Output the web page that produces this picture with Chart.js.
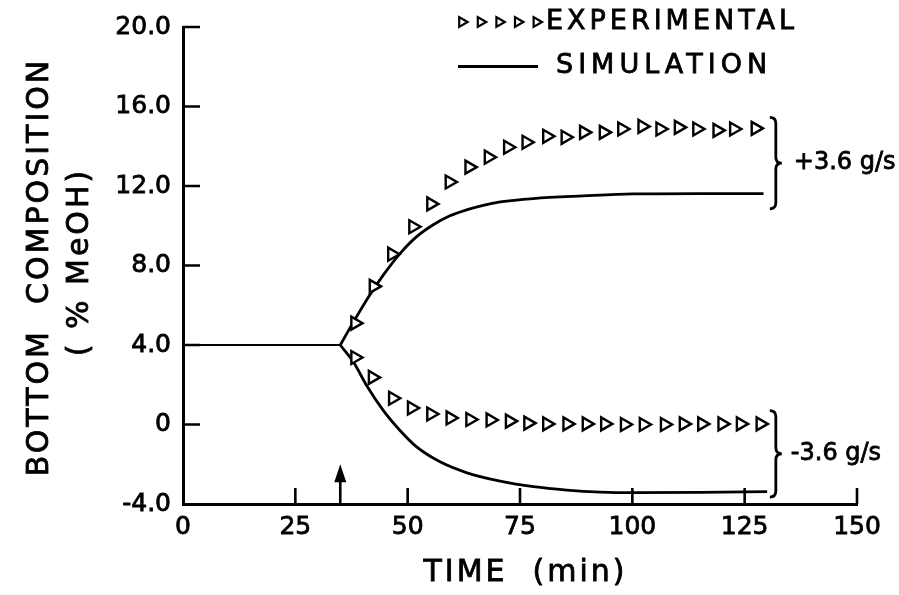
<!DOCTYPE html>
<html>
<head>
<meta charset="utf-8">
<title>Bottom composition response</title>
<script src="https://cdn.jsdelivr.net/npm/chart.js@4/dist/chart.umd.min.js"></script>
<style>
  html, body { margin: 0; padding: 0; background: #fff; }
  #wrap { width: 899px; height: 595px; }
</style>
</head>
<body>
<div id="wrap"><canvas id="chart" width="899" height="595"></canvas></div>
<script>
"use strict";

// axis ticks
const X_TICKS = [0, 25, 50, 75, 100, 125, 150];
const Y_TICKS = [-4, 0, 4, 8, 12, 16, 20];
const Y_TICK_LABELS = ["-4.0", "0", "4.0", "8.0", "12.0", "16.0", "20.0"];

// experimental, +3.6 g/s step
const EXP_UP_TIME  = [38.3, 42.4, 46.5, 51.2, 55.2, 59.3, 63.7, 68.0, 72.3, 76.4, 81.0,
                      85.1, 89.2, 93.6, 97.7, 102.2, 106.2, 110.3, 114.4, 118.9, 122.6, 127.4];
const EXP_UP_VALUE = [5.1, 6.95, 8.57, 9.95, 11.1, 12.2, 12.95, 13.45, 13.95, 14.2, 14.5,
                      14.45, 14.7, 14.7, 14.87, 15.0, 14.87, 14.95, 14.87, 14.8, 14.87, 14.9];

// experimental, -3.6 g/s step
const EXP_DOWN_TIME  = [38.3, 42.2, 46.7, 50.9, 55.2, 59.5, 63.9, 68.4, 72.7, 76.8, 81.0,
                        85.5, 89.8, 93.9, 98.3, 102.5, 107.2, 111.4, 115.5, 120.0, 124.1, 128.5];
const EXP_DOWN_VALUE = [3.37, 2.37, 1.32, 0.83, 0.53, 0.33, 0.25, 0.23, 0.17, 0.07, 0.03,
                        0.03, 0.03, 0.03, 0.0, 0.0, 0.0, 0.03, 0.03, 0.03, 0.03, 0.03];

// simulation: steady state before the step, then the two responses
const BASE_TIME  = [0, 35];
const BASE_VALUE = [4.0, 4.0];
const SIM_UP_TIME  = [35, 38.3, 41.6, 44.6, 48.3, 52.0, 55.7, 59.4, 63.1, 66.8, 70.6, 78.0, 89.1, 100.2, 115.1, 129.2];
const SIM_UP_VALUE = [4.0, 5.3, 6.53, 7.53, 8.6, 9.45, 10.05, 10.5, 10.8, 11.03, 11.2, 11.37, 11.5, 11.6, 11.62, 11.62];
const SIM_DOWN_TIME  = [35, 38.0, 40.9, 44.6, 48.3, 52.0, 57.2, 63.2, 70.6, 78.0, 85.4, 92.9, 100.3, 115.1, 130.0];
const SIM_DOWN_VALUE = [4.0, 3.12, 1.95, 0.7, -0.3, -1.13, -1.88, -2.43, -2.85, -3.13, -3.3, -3.4, -3.43, -3.42, -3.38];

// step time marker
const ARROW_TIME = 35;
const ARROW_TIP = -2.0;

// flow step braces: label, top and bottom of the brace in data units
const BRACES = [
  { label: "+3.6 g/s", time: 130.6, top: 15.45, bottom: 10.85, gap: 12 },
  { label: "-3.6 g/s", time: 130.6, top: 0.7, bottom: -3.65, gap: 9 },
];

const FONT = "'DejaVu Sans', sans-serif";
Chart.defaults.font.family = FONT;
Chart.defaults.color = "#000";

const pts = (xs, ys) => xs.map((x, i) => ({ x, y: ys[i] }));

function simLine(label, xs, ys, width) {
  return {
    label, data: pts(xs, ys), showLine: true,
    borderColor: "#000", borderWidth: width,
    pointRadius: 0, cubicInterpolationMode: "monotone",
  };
}

function expPoints(label, xs, ys) {
  return {
    label, data: pts(xs, ys), showLine: false,
    pointStyle: "triangle", pointRotation: 90, pointRadius: 7.5,
    pointBorderWidth: 2.4, pointBorderColor: "#000", pointBackgroundColor: "#fff",
  };
}

function triangle(ctx, x, y, r) {
  ctx.beginPath();
  ctx.moveTo(x + r, y);
  ctx.lineTo(x - r / 2, y - r * 0.866);
  ctx.lineTo(x - r / 2, y + r * 0.866);
  ctx.closePath();
  ctx.fill();
  ctx.stroke();
}

function brace(ctx, x, top, bottom, w) {
  const mid = (top + bottom) / 2, r = w / 2;
  ctx.beginPath();
  ctx.moveTo(x, top);
  ctx.quadraticCurveTo(x + r, top, x + r, top + r);
  ctx.lineTo(x + r, mid - r);
  ctx.quadraticCurveTo(x + r, mid, x + w, mid);
  ctx.quadraticCurveTo(x + r, mid, x + r, mid + r);
  ctx.lineTo(x + r, bottom - r);
  ctx.quadraticCurveTo(x + r, bottom, x, bottom);
  ctx.stroke();
}

// scanned lettering is heavier than DejaVu Book, so a thin stroke goes over the fill
function spacedText(ctx, text, x, y, size, spacing, align, rot) {
  ctx.save();
  ctx.translate(x, y);
  if (rot) ctx.rotate(rot);
  ctx.font = size + "px " + FONT;
  ctx.letterSpacing = spacing + "px";
  ctx.textAlign = align;
  ctx.textBaseline = "middle";
  ctx.fillStyle = "#000";
  ctx.strokeStyle = "#000";
  ctx.lineWidth = 0.8;
  const dx = align === "center" ? spacing / 2 : 0;
  ctx.fillText(text, dx, 0);
  ctx.strokeText(text, dx, 0);
  ctx.restore();
}

const decorations = {
  id: "decorations",
  afterDatasetsDraw(chart) {
    const { ctx, chartArea: area, scales: { x, y } } = chart;
    ctx.save();
    ctx.strokeStyle = "#000";
    ctx.fillStyle = "#000";
    ctx.lineCap = "butt";

    // inward tick marks
    ctx.lineWidth = 2.6;
    ctx.beginPath();
    y.ticks.forEach(t => {
      if (t.value <= y.min) return;
      const py = y.getPixelForValue(t.value);
      ctx.moveTo(area.left, py);
      ctx.lineTo(area.left + 17, py);
    });
    x.ticks.forEach(t => {
      if (t.value <= x.min) return;
      const px = x.getPixelForValue(t.value);
      ctx.moveTo(px, area.bottom);
      ctx.lineTo(px, area.bottom - 16);
    });
    ctx.stroke();

    // step arrow
    const ax = x.getPixelForValue(ARROW_TIME);
    const tip = y.getPixelForValue(ARROW_TIP);
    ctx.lineWidth = 2.6;
    ctx.beginPath();
    ctx.moveTo(ax, area.bottom);
    ctx.lineTo(ax, tip + 12);
    ctx.stroke();
    ctx.beginPath();
    ctx.moveTo(ax, tip);
    ctx.lineTo(ax - 6, tip + 18);
    ctx.lineTo(ax + 6, tip + 18);
    ctx.closePath();
    ctx.fill();

    // braces and their labels
    BRACES.forEach(b => {
      const bx = x.getPixelForValue(b.time);
      const top = y.getPixelForValue(b.top);
      const bottom = y.getPixelForValue(b.bottom);
      ctx.lineWidth = 2.8;
      brace(ctx, bx, top, bottom, 12);
      spacedText(ctx, b.label, bx + 12 + b.gap, (top + bottom) / 2, 24, 0, "left");
    });

    // legend
    ctx.lineWidth = 2.2;
    ctx.fillStyle = "#fff";
    for (let i = 0; i < 5; i++) triangle(ctx, 462 + i * 18.6, 22, 5.6);
    ctx.lineWidth = 2.8;
    ctx.beginPath();
    ctx.moveTo(458, 66.5);
    ctx.lineTo(538, 66.5);
    ctx.stroke();
    spacedText(ctx, "EXPERIMENTAL", 546, 22, 27, 4, "left");
    spacedText(ctx, "SIMULATION", 556, 66, 27, 5, "left");

    // axis titles
    const cy = (area.top + area.bottom) / 2;
    spacedText(ctx, "BOTTOM  COMPOSITION", 40, cy + 3, 30, 3, "center", -Math.PI / 2);
    spacedText(ctx, "( % MeOH)", 80, cy - 2, 30, 3, "center", -Math.PI / 2);
    spacedText(ctx, "TIME  (min)", 524, 573, 30, 3, "center");

    ctx.restore();
  },
};

new Chart(document.getElementById("chart"), {
  type: "scatter",
  data: {
    datasets: [
      expPoints("Experimental +3.6 g/s", EXP_UP_TIME, EXP_UP_VALUE),
      expPoints("Experimental -3.6 g/s", EXP_DOWN_TIME, EXP_DOWN_VALUE),
      simLine("Simulation", BASE_TIME, BASE_VALUE, 2),
      simLine("Simulation +3.6 g/s", SIM_UP_TIME, SIM_UP_VALUE, 2.8),
      simLine("Simulation -3.6 g/s", SIM_DOWN_TIME, SIM_DOWN_VALUE, 2.8),
    ],
  },
  options: {
    responsive: false,
    animation: false,
    devicePixelRatio: 1,
    layout: { padding: { left: 0, top: 24, right: 42, bottom: 0 } },
    plugins: { legend: { display: false }, tooltip: { enabled: false } },
    scales: {
      x: {
        type: "linear", min: 0, max: 150,
        afterBuildTicks: s => { s.ticks = X_TICKS.map(v => ({ value: v })); },
        afterFit: s => { s.height = 91; },
        ticks: {
          font: { size: 25 }, padding: 8, maxRotation: 0, autoSkip: false,
          textStrokeColor: "#000", textStrokeWidth: 0.8, callback: v => String(v),
        },
        grid: { drawOnChartArea: false, drawTicks: false },
        border: { color: "#000", width: 3 },
      },
      y: {
        type: "linear", min: -4, max: 20,
        afterBuildTicks: s => { s.ticks = Y_TICKS.map(v => ({ value: v })); },
        afterFit: s => { s.width = 183; },
        ticks: {
          font: { size: 25 }, padding: 12, autoSkip: false,
          textStrokeColor: "#000", textStrokeWidth: 0.8, callback: (v, i) => Y_TICK_LABELS[i],
        },
        grid: { drawOnChartArea: false, drawTicks: false },
        border: { color: "#000", width: 3 },
      },
    },
  },
  plugins: [decorations],
});
</script>
</body>
</html>
